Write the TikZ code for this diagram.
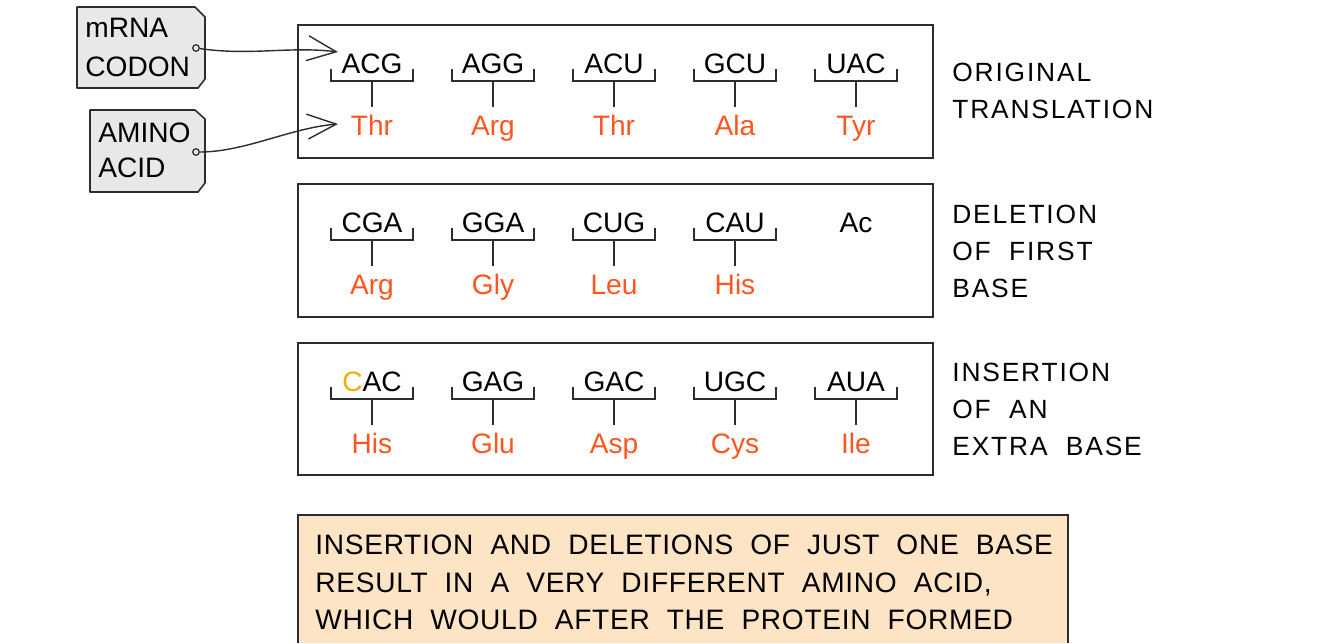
\documentclass[tikz,border=0pt]{standalone}
\usepackage{fontspec}
\setmainfont{Liberation Sans}
\newfontfamily\notefont[LetterSpace=2.5,WordSpace=2]{Liberation Sans}
\newfontfamily\labfont[LetterSpace=7,WordSpace=2]{Liberation Sans}
\usetikzlibrary{arrows.meta}

\definecolor{aacol}{RGB}{255,85,30}
\definecolor{newbase}{RGB}{245,170,0}
\definecolor{notecol}{RGB}{253,228,196}
\definecolor{tagcol}{RGB}{232,232,232}
\definecolor{ink}{RGB}{45,45,45}

\tikzset{
  cod/.style={anchor=base, inner sep=0pt, minimum width=1.62cm, text depth=0.16cm, font=\fontsize{16}{19}\selectfont},
  amino/.style={anchor=base, inner sep=0pt, outer sep=0.16cm, text height=0.4cm, text=aacol, font=\fontsize{16}{19}\selectfont},
  brk/.style={draw=ink, line width=1pt},
  box/.style={draw=ink, line width=0.9pt},
  tag/.style={draw=ink, fill=tagcol, line width=0.9pt, line join=round},
  hole/.style={circle, draw=ink, fill=tagcol, inner sep=0pt, minimum size=0.13cm, line width=0.7pt},
  tagtxt/.style={anchor=base west, inner sep=0pt, font=\fontsize{16}{19}\selectfont},
  lab/.style={anchor=north west, inner sep=0pt, align=left, font=\labfont\fontsize{15}{21}\selectfont},
  note/.style={anchor=north west, inner sep=0pt, align=left, font=\notefont\fontsize{16}{21.3}\selectfont},
  arr/.style={draw=ink, line width=0.8pt, -{Straight Barb[length=0.58cm,width=0.5cm]}},
}

% codon with its bracket and amino acid below
\newcommand{\codon}[5]{%
  \node [cod] (#1) at (#2,#3) {#4};
  \node [amino] (#1a) at (#2,#3+62) {#5};
  \draw [brk] ([yshift=0.24cm]#1.south west) |- (#1.south east) -- ++(0,0.24cm);
  \draw [brk] (#1.south) -- (#1a.north);}

\begin{document}
\begin{tikzpicture}[x=0.02cm, y=-0.02cm]
  \useasboundingbox (0,0) rectangle (1319,643);
  % \draw[help lines, step=50] (0,0) grid (1319,643);
  \draw [box] (298,25) rectangle (933,158);
  \draw [box] (298,184) rectangle (933,317);
  \draw [box] (298,343) rectangle (933,475);
  \fill [notecol] (298,515) rectangle (1068,643);
  \draw [box] (298,643) |- (1068,515) -- (1068,643);

  % original translation
  \codon{o1}{372}{73}{ACG}{Thr}
  \codon{o2}{493}{73}{AGG}{Arg}
  \codon{o3}{614}{73}{ACU}{Thr}
  \codon{o4}{735}{73}{GCU}{Ala}
  \codon{o5}{856}{73}{UAC}{Tyr}

  % deletion
  \codon{d1}{372}{232}{CGA}{Arg}
  \codon{d2}{493}{232}{GGA}{Gly}
  \codon{d3}{614}{232}{CUG}{Leu}
  \codon{d4}{735}{232}{CAU}{His}
  \node [cod] (d5) at (856,232) {Ac};

  % insertion
  \codon{i1}{372}{391}{\textcolor{newbase}{C}AC}{His}
  \codon{i2}{493}{391}{GAG}{Glu}
  \codon{i3}{614}{391}{GAC}{Asp}
  \codon{i4}{735}{391}{UGC}{Cys}
  \codon{i5}{856}{391}{AUA}{Ile}

  % tags
  \draw [tag] (77,7) -- (195,7) -- (205,17) -- (205,79) -- (198,88) -- (77,88) -- cycle;
  \draw [tag] (90,110) -- (195,110) -- (205,119) -- (205,183) -- (198,192) -- (90,192) -- cycle;
  \node [hole] (h1) at (196,48) {};
  \node [hole] (h2) at (196,152) {};
  \node [tagtxt] (t1) at (85,37) {mRNA};
  \node [tagtxt] (t2) at (85,76) {CODON};
  \node [tagtxt] (t3) at (98,142) {AMINO};
  \node [tagtxt] (t4) at (98,177) {ACID};
  \coordinate (p1) at (338,52);
  \coordinate (p2) at (338,124);
  \draw [arr] (h1) .. controls (250,56) and (290,46) .. (p1);
  \draw [arr] (h2) .. controls (245,152) and (290,128) .. (p2);

  \node [lab] (l1) at (952,63) {ORIGINAL\\TRANSLATION};
  \node [lab] (l2) at (952,205) {DELETION\\OF FIRST\\BASE};
  \node [lab] (l3) at (952,363) {INSERTION\\OF AN\\EXTRA BASE};
  \node [note] (n1) at (315,535) {INSERTION AND DELETIONS OF JUST ONE BASE\\RESULT IN A VERY DIFFERENT AMINO ACID,\\WHICH WOULD AFTER THE PROTEIN FORMED};
\end{tikzpicture}
\end{document}
